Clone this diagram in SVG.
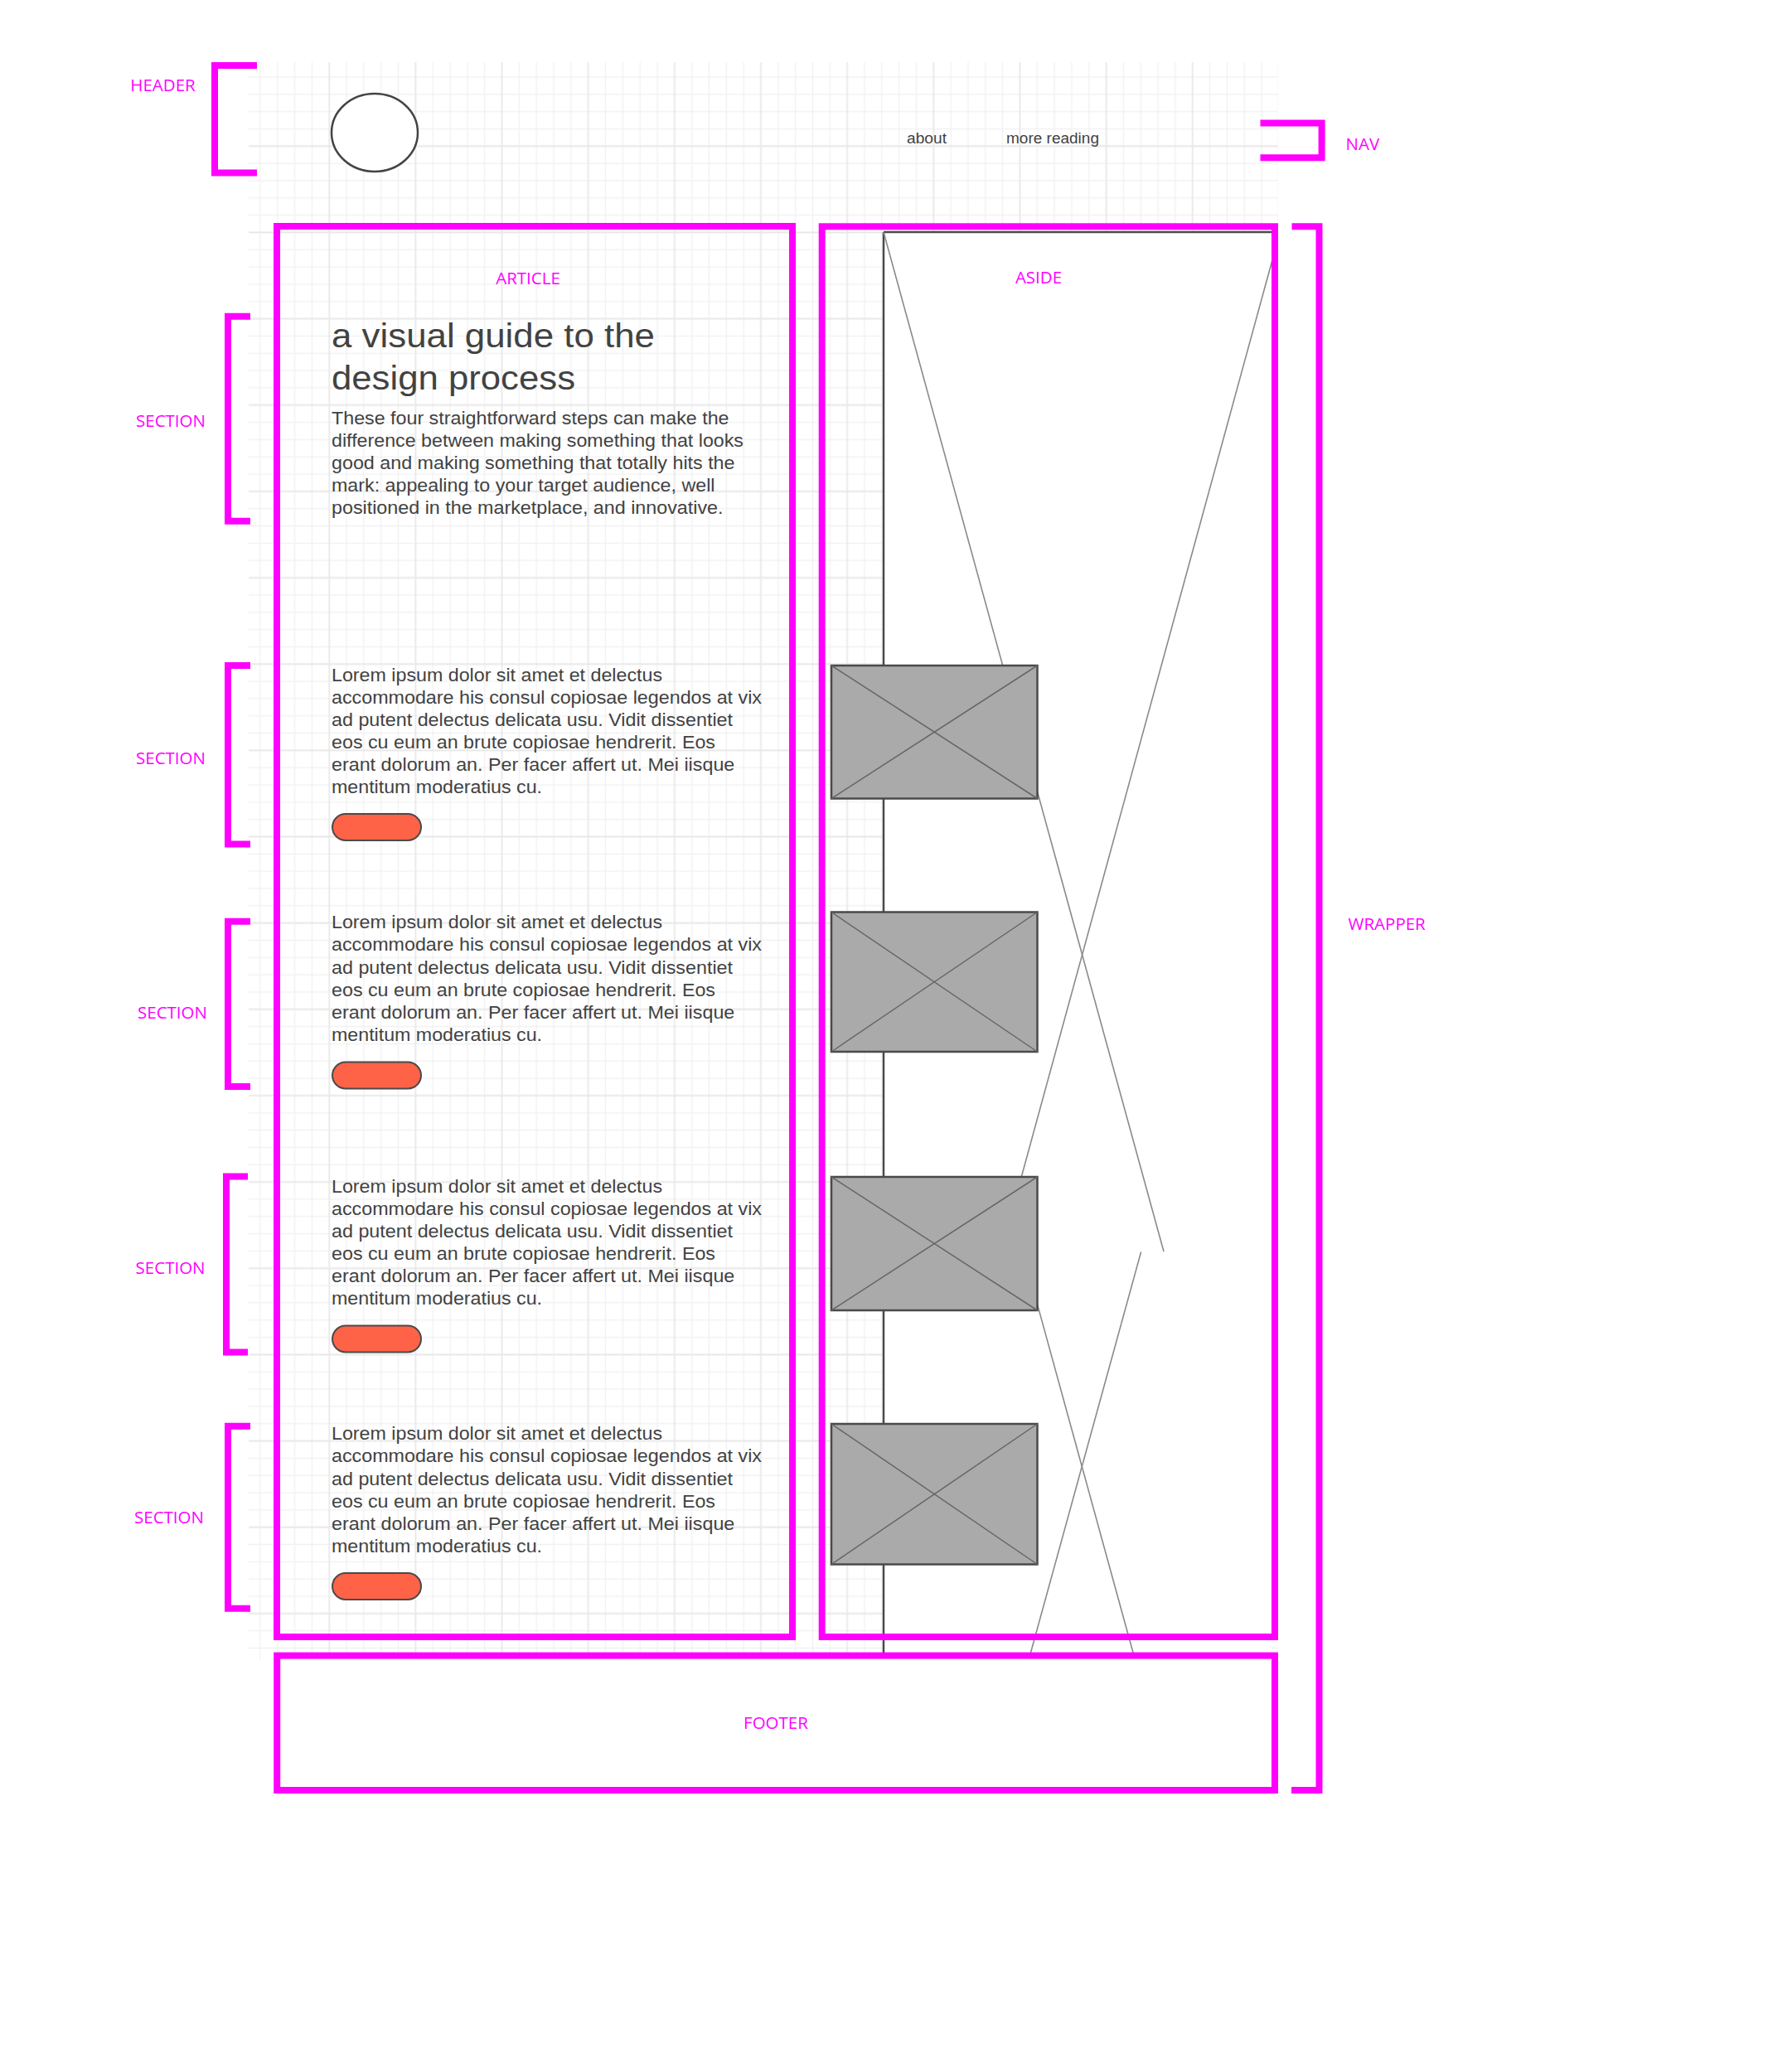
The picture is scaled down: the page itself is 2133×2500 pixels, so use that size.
<svg xmlns="http://www.w3.org/2000/svg" width="2133" height="2500" viewBox="0 0 2133 2500">
<defs>
<pattern id="grid" patternUnits="userSpaceOnUse" x="282.7" y="61.75" width="104.15" height="104.15">
<g stroke="#f2f2f2" stroke-width="1.5">
<line x1="31.23" y1="0" x2="31.23" y2="104.15"/><line x1="52.06" y1="0" x2="52.06" y2="104.15"/><line x1="72.89" y1="0" x2="72.89" y2="104.15"/><line x1="93.72" y1="0" x2="93.72" y2="104.15"/>
<line y1="31.23" x1="0" y2="31.23" x2="104.15"/><line y1="52.06" x1="0" y2="52.06" x2="104.15"/><line y1="72.89" x1="0" y2="72.89" x2="104.15"/><line y1="93.72" x1="0" y2="93.72" x2="104.15"/>
</g>
<g stroke="#e8e8e8" stroke-width="1.8">
<line x1="10.4" y1="0" x2="10.4" y2="104.15"/><line y1="10.4" x1="0" y2="10.4" x2="104.15"/>
</g>
</pattern>
</defs>
<style>
.mag{fill:none;stroke:#ff00ff;stroke-width:8;stroke-linejoin:miter;stroke-linecap:butt}
.lbl{font-family:"Open Sans","Noto Sans",sans-serif;font-size:20.5px;fill:#ff00ff}
.body{font-family:"Liberation Sans",Arial,sans-serif;font-size:21.5px;fill:#424242}
.title{font-family:"Liberation Sans",Arial,sans-serif;font-size:40px;fill:#424242}
.nav{font-family:"Liberation Sans",Arial,sans-serif;font-size:17.5px;fill:#424242}
.btn{fill:#fe6347;stroke:#4a4a4a;stroke-width:2}
.img{fill:#aaaaaa;stroke:#4a4a4a;stroke-width:2.5}
.imgx{stroke:#666;stroke-width:1.5}
.thin{stroke:#8a8a8a;stroke-width:1.6;fill:none}
.dark{stroke:#4a4a4a;stroke-width:2.5;fill:none}
</style>
<rect width="2133" height="2500" fill="#ffffff"/>
<rect x="300" y="75" width="1242" height="1928" fill="url(#grid)"/>

<g id="aside-image">
<rect x="1066" y="280" width="468" height="1723" fill="#ffffff"/>
<line class="dark" x1="1066" y1="280" x2="1066" y2="2003"/>
<line class="dark" x1="1066" y1="280" x2="1534" y2="280"/>
</g>

<g id="connectors">
<line class="thin" x1="1066" y1="280" x2="1404" y2="1510"/>
<line class="thin" x1="1536" y1="310" x2="1232" y2="1421"/>
<line class="thin" x1="1376.6" y1="1510.5" x2="1241" y2="2003"/>
<line class="thin" x1="1251.5" y1="1573.6" x2="1369.5" y2="2003"/>
</g>

<g id="header">
<ellipse cx="452" cy="160" rx="52" ry="47" fill="#ffffff" stroke="#444" stroke-width="2.5"/>
<text class="nav" x="1094" y="172.5" textLength="48" lengthAdjust="spacingAndGlyphs">about</text>
<text class="nav" x="1214" y="172.5" textLength="112" lengthAdjust="spacingAndGlyphs">more reading</text>
</g>

<g id="intro">
<text class="title" x="400" y="419" textLength="390" lengthAdjust="spacingAndGlyphs">a visual guide to the</text>
<text class="title" x="400" y="470" textLength="294" lengthAdjust="spacingAndGlyphs">design process</text>
<text class="body" x="400" y="512.3" textLength="479.5" lengthAdjust="spacingAndGlyphs">These four straightforward steps can make the</text>
<text class="body" x="400" y="539.3" textLength="497" lengthAdjust="spacingAndGlyphs">difference between making something that looks</text>
<text class="body" x="400" y="566.3" textLength="486.5" lengthAdjust="spacingAndGlyphs">good and making something that totally hits the</text>
<text class="body" x="400" y="593.3" textLength="462.5" lengthAdjust="spacingAndGlyphs">mark: appealing to your target audience, well</text>
<text class="body" x="400" y="620.3" textLength="472.5" lengthAdjust="spacingAndGlyphs">positioned in the marketplace, and innovative.</text>
</g>

<g id="section-2">
<text class="body" x="400" y="821.7" textLength="399" lengthAdjust="spacingAndGlyphs">Lorem ipsum dolor sit amet et delectus</text>
<text class="body" x="400" y="848.8" textLength="519" lengthAdjust="spacingAndGlyphs">accommodare his consul copiosae legendos at vix</text>
<text class="body" x="400" y="875.9" textLength="484" lengthAdjust="spacingAndGlyphs">ad putent delectus delicata usu. Vidit dissentiet</text>
<text class="body" x="400" y="903" textLength="463" lengthAdjust="spacingAndGlyphs">eos cu eum an brute copiosae hendrerit. Eos</text>
<text class="body" x="400" y="930.1" textLength="486.3" lengthAdjust="spacingAndGlyphs">erant dolorum an. Per facer affert ut. Mei iisque</text>
<text class="body" x="400" y="957.2" textLength="254" lengthAdjust="spacingAndGlyphs">mentitum moderatius cu.</text>
<rect class="btn" x="401" y="982" width="107" height="32" rx="16"/>
</g>

<g id="section-3">
<text class="body" x="400" y="1120.3" textLength="399" lengthAdjust="spacingAndGlyphs">Lorem ipsum dolor sit amet et delectus</text>
<text class="body" x="400" y="1147.4" textLength="519" lengthAdjust="spacingAndGlyphs">accommodare his consul copiosae legendos at vix</text>
<text class="body" x="400" y="1174.5" textLength="484" lengthAdjust="spacingAndGlyphs">ad putent delectus delicata usu. Vidit dissentiet</text>
<text class="body" x="400" y="1201.6" textLength="463" lengthAdjust="spacingAndGlyphs">eos cu eum an brute copiosae hendrerit. Eos</text>
<text class="body" x="400" y="1228.7" textLength="486.3" lengthAdjust="spacingAndGlyphs">erant dolorum an. Per facer affert ut. Mei iisque</text>
<text class="body" x="400" y="1255.8" textLength="254" lengthAdjust="spacingAndGlyphs">mentitum moderatius cu.</text>
<rect class="btn" x="401" y="1281.5" width="107" height="32" rx="16"/>
</g>

<g id="section-4">
<text class="body" x="400" y="1438.8" textLength="399" lengthAdjust="spacingAndGlyphs">Lorem ipsum dolor sit amet et delectus</text>
<text class="body" x="400" y="1465.9" textLength="519" lengthAdjust="spacingAndGlyphs">accommodare his consul copiosae legendos at vix</text>
<text class="body" x="400" y="1493" textLength="484" lengthAdjust="spacingAndGlyphs">ad putent delectus delicata usu. Vidit dissentiet</text>
<text class="body" x="400" y="1520.1" textLength="463" lengthAdjust="spacingAndGlyphs">eos cu eum an brute copiosae hendrerit. Eos</text>
<text class="body" x="400" y="1547.2" textLength="486.3" lengthAdjust="spacingAndGlyphs">erant dolorum an. Per facer affert ut. Mei iisque</text>
<text class="body" x="400" y="1574.3" textLength="254" lengthAdjust="spacingAndGlyphs">mentitum moderatius cu.</text>
<rect class="btn" x="401" y="1599.5" width="107" height="32" rx="16"/>
</g>

<g id="section-5">
<text class="body" x="400" y="1737.3" textLength="399" lengthAdjust="spacingAndGlyphs">Lorem ipsum dolor sit amet et delectus</text>
<text class="body" x="400" y="1764.4" textLength="519" lengthAdjust="spacingAndGlyphs">accommodare his consul copiosae legendos at vix</text>
<text class="body" x="400" y="1791.5" textLength="484" lengthAdjust="spacingAndGlyphs">ad putent delectus delicata usu. Vidit dissentiet</text>
<text class="body" x="400" y="1818.6" textLength="463" lengthAdjust="spacingAndGlyphs">eos cu eum an brute copiosae hendrerit. Eos</text>
<text class="body" x="400" y="1845.7" textLength="486.3" lengthAdjust="spacingAndGlyphs">erant dolorum an. Per facer affert ut. Mei iisque</text>
<text class="body" x="400" y="1872.8" textLength="254" lengthAdjust="spacingAndGlyphs">mentitum moderatius cu.</text>
<rect class="btn" x="401" y="1898" width="107" height="32" rx="16"/>
</g>

<g id="image-1">
<rect class="img" x="1003" y="803" width="248.5" height="160.5"/>
<line class="imgx" x1="1003" y1="803" x2="1251.5" y2="963.5"/><line class="imgx" x1="1251.5" y1="803" x2="1003" y2="963.5"/>
</g>
<g id="image-2">
<rect class="img" x="1003" y="1100.5" width="248.5" height="168.5"/>
<line class="imgx" x1="1003" y1="1100.5" x2="1251.5" y2="1269"/><line class="imgx" x1="1251.5" y1="1100.5" x2="1003" y2="1269"/>
</g>
<g id="image-3">
<rect class="img" x="1003" y="1420" width="248.5" height="161"/>
<line class="imgx" x1="1003" y1="1420" x2="1251.5" y2="1581"/><line class="imgx" x1="1251.5" y1="1420" x2="1003" y2="1581"/>
</g>
<g id="image-4">
<rect class="img" x="1003" y="1718" width="248.5" height="169.5"/>
<line class="imgx" x1="1003" y1="1718" x2="1251.5" y2="1887.5"/><line class="imgx" x1="1251.5" y1="1718" x2="1003" y2="1887.5"/>
</g>

<g id="article">
<rect class="mag" x="334" y="273" width="622" height="1702"/>
<text class="lbl" x="637" y="343" text-anchor="middle">ARTICLE</text>
</g>
<g id="aside">
<rect class="mag" x="991.7" y="273.3" width="546.3" height="1701.7"/>
<text class="lbl" x="1253" y="342" text-anchor="middle">ASIDE</text>
</g>
<g id="footer">
<rect class="mag" x="334.2" y="1997.6" width="1203.8" height="162.4" style="fill:#ffffff"/>
<text class="lbl" x="936" y="2086" text-anchor="middle">FOOTER</text>
</g>

<g id="header-bracket">
<path class="mag" d="M310,79 H259 V208.5 H310"/>
<text class="lbl" x="196.5" y="109.5" text-anchor="middle">HEADER</text>
</g>
<g id="nav-bracket">
<path class="mag" d="M1520.5,148.5 H1594.6 V190.3 H1520.5"/>
<text class="lbl" x="1623.5" y="181">NAV</text>
</g>
<g id="wrapper-bracket">
<path class="mag" d="M1558.5,273.3 H1591.5 V2160 H1558"/>
<text class="lbl" x="1626.5" y="1122">WRAPPER</text>
</g>
<g id="section-bracket-1">
<path class="mag" d="M302,381.8 H275 V628.8 H302"/>
<text class="lbl" x="206" y="515" text-anchor="middle">SECTION</text>
</g>
<g id="section-bracket-2">
<path class="mag" d="M302,803 H275 V1018.5 H302"/>
<text class="lbl" x="206" y="921.7" text-anchor="middle">SECTION</text>
</g>
<g id="section-bracket-3">
<path class="mag" d="M302,1111.8 H275 V1311 H302"/>
<text class="lbl" x="208" y="1229" text-anchor="middle">SECTION</text>
</g>
<g id="section-bracket-4">
<path class="mag" d="M299,1419.5 H273 V1631.5 H299"/>
<text class="lbl" x="205.6" y="1537" text-anchor="middle">SECTION</text>
</g>
<g id="section-bracket-5">
<path class="mag" d="M302,1720.8 H275 V1940.7 H302"/>
<text class="lbl" x="204" y="1838" text-anchor="middle">SECTION</text>
</g>
</svg>
